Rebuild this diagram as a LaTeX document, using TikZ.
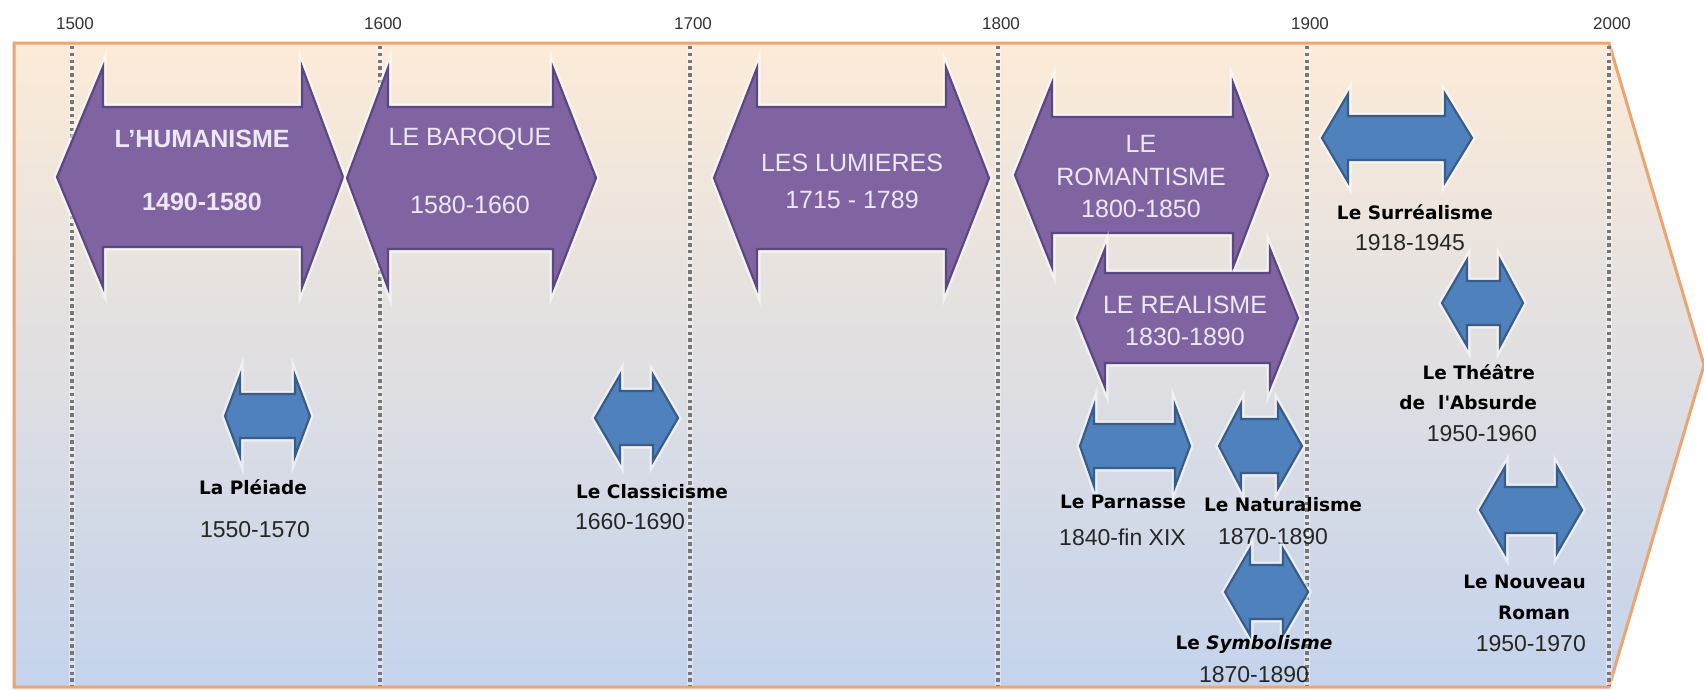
\documentclass[tikz,border=0pt]{standalone}
\usepackage{fontspec}
\setmainfont{Liberation Sans}
\newfontfamily\lblfont{DejaVu Sans}
\definecolor{bgtop}{HTML}{FCEBD8}
\definecolor{bgmid}{HTML}{E5E2E9}
\definecolor{bgbot}{HTML}{C4D3EC}
\definecolor{bgline}{HTML}{ECA572}
\definecolor{purfill}{HTML}{8064A2}
\definecolor{purline}{HTML}{5C4785}
\definecolor{purtext}{HTML}{EEE7F8}
\definecolor{bluefill}{HTML}{4F81BD}
\definecolor{blueline}{HTML}{385D8A}
\definecolor{tickgray}{HTML}{777777}
\tikzset{
  purarrow/.style={fill=purfill, draw=purline, line width=2.2pt, line join=miter,
    preaction={draw=white, line width=7pt, opacity=0.55}},
  bluearrow/.style={fill=bluefill, draw=blueline, line width=2.2pt, line join=miter,
    preaction={draw=white, line width=7pt, opacity=0.55}},
  ptext/.style={text=purtext, font=\fontsize{25}{27}\selectfont, inner sep=0pt},
  ptextb/.style={text=purtext, font=\bfseries\fontsize{25}{27}\selectfont, inner sep=0pt},
  lname/.style={text=black, font=\lblfont\bfseries\fontsize{18.5}{20}\selectfont, inner sep=0pt},
  lyear/.style={text=black!85, font=\fontsize{23}{25}\selectfont, inner sep=0pt},
  yearlbl/.style={text=black!80, font=\fontsize{17}{19}\selectfont, inner sep=1pt},
  century/.style={draw=tickgray, line width=3.4pt, dash pattern=on 3.4pt off 3.4pt,
    preaction={draw=white, line width=6pt, opacity=0.35}}
}
\newcommand{\dblarr}[8]{%
  \draw[#1] (#2,#6) -- (#3,{#6-#8}) -- (#3,{#6-#7}) -- (#4,{#6-#7}) -- (#4,{#6-#8})
   -- (#5,#6) -- (#4,{#6+#8}) -- (#4,{#6+#7}) -- (#3,{#6+#7}) -- (#3,{#6+#8}) -- cycle;}
\begin{document}
\begin{tikzpicture}[x=1pt,y=-1pt]
\useasboundingbox (0,0) rectangle (1704,689);
\fill[white] (0,0) rectangle (1704,689);
% background arrow
\shade[top color=bgtop, middle color=bgmid, bottom color=bgbot]
  (14,43) -- (1609,43) -- (1704,365) -- (1609,687) -- (14,687) -- cycle;
\draw[bgline, line width=3pt, line join=miter]
  (14,687) -- (14,43) -- (1609,43) -- (1704,365) -- (1609,687) -- cycle;
% century lines and labels
\foreach \x/\yr in {72/1500, 380/1600, 690/1700, 998/1800, 1307/1900, 1609/2000}{
  \draw[century] (\x,46) -- (\x,686);
  \node[yearlbl] (y\yr) at (\x+3,24) {\yr};
}
% purple movements
\dblarr{purarrow}{57}{103}{302}{343}{177}{70}{110}
\node[ptextb] (hum1) at (202,139) {L'HUMANISME};
\node[ptextb] (hum2) at (202,202) {1490-1580};
\dblarr{purarrow}{347}{388}{553}{596}{178}{71}{110}
\node[ptext] (bar1) at (470,139) {LE BAROQUE};
\node[ptext] (bar2) at (470,205) {1580-1660};
\dblarr{purarrow}{714}{757}{946}{989}{178}{71}{110}
\node[ptext] (lum1) at (852,163) {LES LUMIERES};
\node[ptext] (lum2) at (852,200) {1715 - 1789};
\dblarr{purarrow}{1015}{1052}{1233}{1268}{175}{58}{92}
\node[ptext] (rom1) at (1141,144) {LE};
\node[ptext] (rom2) at (1141,177) {ROMANTISME};
\node[ptext] (rom3) at (1141,209) {1800-1850};
\dblarr{purarrow}{1077}{1105}{1270}{1298}{318}{45}{69}
\node[ptext] (rea1) at (1185,305) {LE REALISME};
\node[ptext] (rea2) at (1185,337) {1830-1890};
% blue movements
\dblarr{bluearrow}{225}{240}{295}{310}{416}{22}{40}
\node[lname] (ple1) at (253,487) {La Pléiade};
\node[lyear] (ple2) at (255,530) {1550-1570};
\dblarr{bluearrow}{595}{620}{653}{678}{418}{27}{43}
\node[lname] (cla1) at (652,492) {Le Classicisme};
\node[lyear] (cla2) at (630,522) {1660-1690};
\dblarr{bluearrow}{1080}{1094}{1175}{1190}{446}{22}{40}
\node[lname, anchor=east] (par1) at (1186,502) {Le Parnasse};
\node[lyear, anchor=east] (par2) at (1186,537) {1840-fin XIX};
\dblarr{bluearrow}{1219}{1241}{1278}{1302}{446}{27}{42}
\node[lname] (nat1) at (1283,505) {Le Naturalisme};
\node[lyear] (nat2) at (1273,537) {1870-1890};
\dblarr{bluearrow}{1225}{1250}{1283}{1308}{592}{27}{43}
\node[lname] (sym1) at (1254,644) {Le \textit{Symbolisme}};
\node[lyear] (sym2) at (1254,675) {1870-1890};
\dblarr{bluearrow}{1322}{1348}{1445}{1472}{138}{22}{44}
\node[lname] (sur1) at (1415,212) {Le Surréalisme};
\node[lyear] (sur2) at (1410,243) {1918-1945};
\dblarr{bluearrow}{1442}{1467}{1500}{1523}{303}{22}{43}
\node[lname, anchor=east] (the1) at (1535,372) {Le Théâtre};
\node[lname, anchor=east] (the2) at (1537,403) {de \ l'Absurde};
\node[lyear, anchor=east] (the3) at (1537,434) {1950-1960};
\dblarr{bluearrow}{1480}{1505}{1557}{1582}{510}{23}{43}
\node[lname, anchor=east] (nou1) at (1586,582) {Le Nouveau};
\node[lname] (nou2) at (1534,613) {Roman};
\node[lyear, anchor=east] (nou3) at (1586,644) {1950-1970};
\end{tikzpicture}
\end{document}
